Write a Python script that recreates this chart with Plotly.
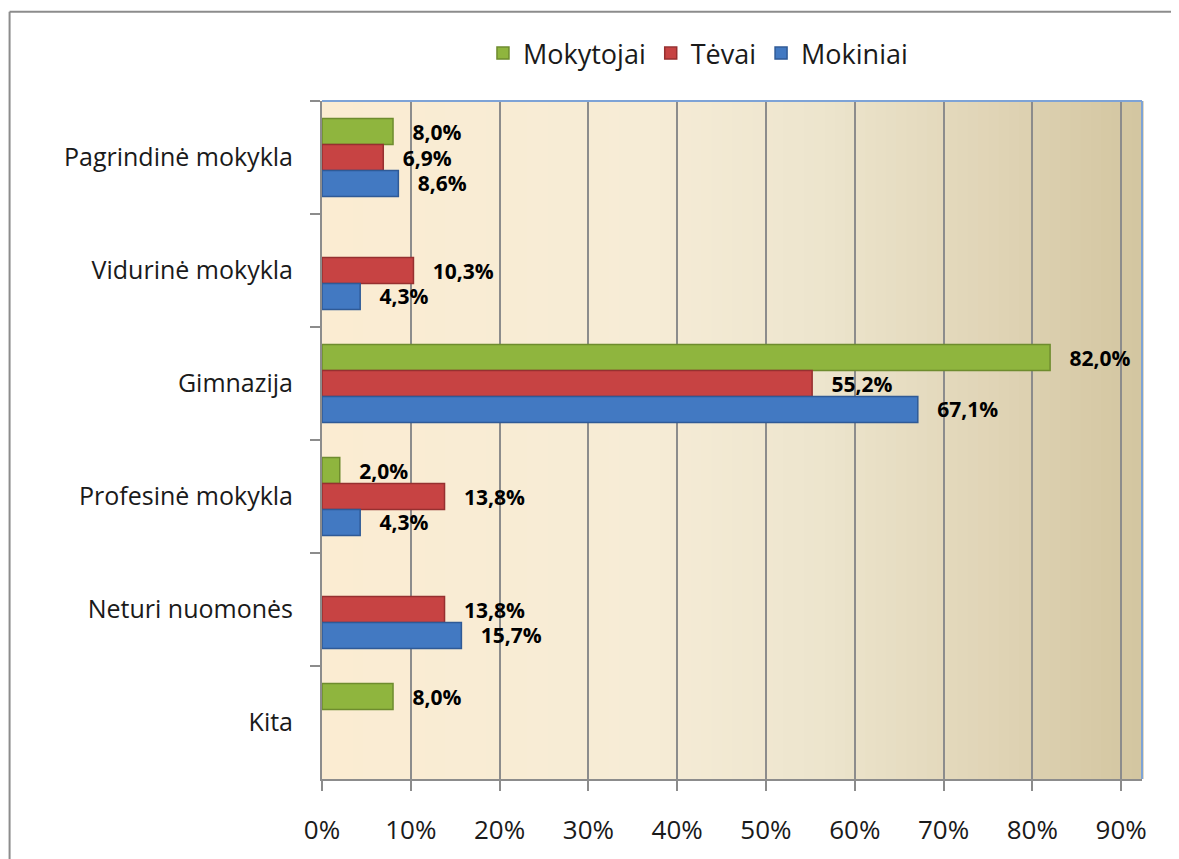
import plotly.graph_objects as go

categories = ["Pagrindinė mokykla", "Vidurinė mokykla", "Gimnazija",
              "Profesinė mokykla", "Neturi nuomonės", "Kita"]
series_names = ["Mokytojai", "Tėvai", "Mokiniai"]
mokytojai = [8.0, None, 82.0, 2.0, None, 8.0]
tevai = [6.9, 10.3, 55.2, 13.8, 13.8, None]
mokiniai = [8.6, 4.3, 67.1, 4.3, 15.7, None]
x_ticks = [0, 10, 20, 30, 40, 50, 60, 70, 80, 90]
x_tick_labels = ["0%", "10%", "20%", "30%", "40%", "50%", "60%", "70%", "80%", "90%"]

colors = ["#8FB53E", "#C74343", "#4279C2"]
line_colors = ["#6E8C2E", "#963030", "#2F5A96"]
values = [mokytojai, tevai, mokiniai]

FONT = "Open Sans"
fig = go.Figure()
for name, vals, c, lc in zip(series_names, values, colors, line_colors):
    fig.add_trace(go.Bar(
        y=categories, x=vals, name=name, orientation="h",
        marker=dict(color=c, line=dict(color=lc, width=1.5)),
        text=[None if v is None else f"   {v:.1f}%".replace(".", ",") for v in vals],
        textposition="outside", cliponaxis=False, constraintext="none",
        textfont=dict(family=FONT, size=21, color="black", weight="bold"),
    ))

# background gradient in plot area
stops = [(0.0, (251, 236, 210)), (0.4, (246, 236, 214)), (0.6, (237, 229, 206)),
         (0.8, (225, 214, 184)), (1.0, (211, 197, 160))]
def col_at(t):
    for (t0, c0), (t1, c1) in zip(stops[:-1], stops[1:]):
        if t0 <= t <= t1:
            f = (t - t0) / (t1 - t0)
            return "rgb(%d,%d,%d)" % tuple(round(a + (b - a) * f) for a, b in zip(c0, c1))
    return "rgb(%d,%d,%d)" % stops[-1][1]
N = 80
shapes = []
for i in range(N):
    shapes.append(dict(type="rect", xref="paper", yref="paper",
                       x0=i / N, x1=(i + 1) / N + 0.002, y0=0, y1=1,
                       fillcolor=col_at((i + 0.5) / N), line=dict(width=0), layer="below"))
# top and right border of plot area (blue)
shapes.append(dict(type="line", xref="paper", yref="paper", x0=0, x1=1, y0=1, y1=1,
                   line=dict(color="#7EA3D6", width=2)))
shapes.append(dict(type="line", xref="paper", yref="paper", x0=1, x1=1, y0=0, y1=1,
                   line=dict(color="#7EA3D6", width=2)))
# outer chart frame
shapes.append(dict(type="line", xref="paper", yref="paper", x0=-0.381, x1=1.1, y0=1.1318, y1=1.1318,
                   line=dict(color="#8C8C8C", width=2)))
shapes.append(dict(type="line", xref="paper", yref="paper", x0=-0.381, x1=-0.381, y0=1.1318, y1=-0.2,
                   line=dict(color="#8C8C8C", width=2)))

fig.update_layout(
    width=1171, height=851,
    margin=dict(l=314, r=37, t=93, b=75),
    paper_bgcolor="white", plot_bgcolor="rgba(0,0,0,0)",
    barmode="group", bargap=0.31, bargroupgap=0,
    separators=",.",
    font=dict(family=FONT, size=25, color="#1a1a1a"),
    showlegend=True,
    legend=dict(orientation="h", x=0.4585, xanchor="center", y=1.070, yanchor="middle",
                font=dict(family=FONT, size=27, color="#1a1a1a"), traceorder="normal",
                itemwidth=30, bgcolor="rgba(0,0,0,0)"),
    shapes=shapes,
    xaxis=dict(range=[0, 92.35], tickvals=x_ticks, ticktext=x_tick_labels,
               showgrid=True, gridcolor="#8C8C8C", gridwidth=2,
               showline=True, linecolor="#8C8C8C", linewidth=2,
               ticks="outside", ticklen=10, tickwidth=2, tickcolor="#8C8C8C",
               ticklabelstandoff=17, zeroline=False,
               tickfont=dict(family=FONT, size=26, color="#1a1a1a")),
    yaxis=dict(autorange="reversed", showgrid=False, showline=True, linecolor="#8C8C8C", linewidth=2,
               ticks="outside", ticklen=10, tickwidth=2, tickcolor="#8C8C8C",
               tickson="boundaries", ticklabelstandoff=22,
               tickfont=dict(family=FONT, size=25, color="#1a1a1a")),
)
fig.write_html("out.html")
